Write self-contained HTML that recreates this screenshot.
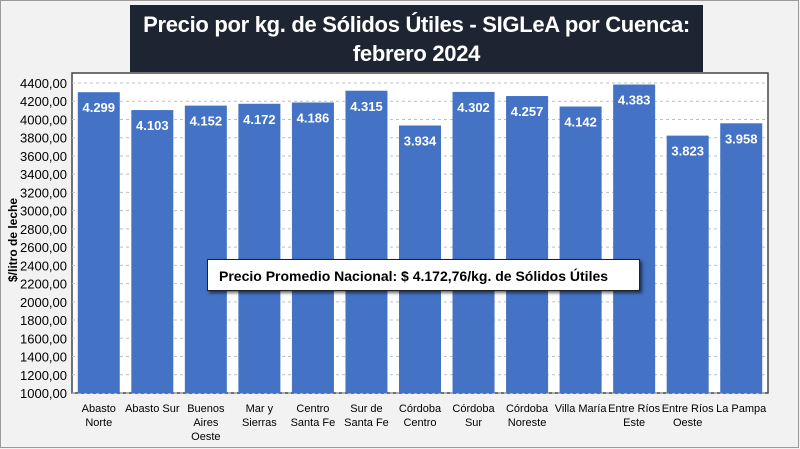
<!DOCTYPE html>
<html><head><meta charset="utf-8"><style>
html,body{margin:0;padding:0;width:800px;height:449px;overflow:hidden;background:#f2f2f2;font-family:"Liberation Sans",sans-serif}
#frame{position:absolute;left:0;top:0;width:797px;height:446px;border:1px solid #9a9a9a;background:#f2f2f2}
#title{position:absolute;left:130px;top:5px;width:573px;height:67px;overflow:hidden;white-space:nowrap;background:#1e2532;color:#fff;font-weight:bold;font-size:22px;letter-spacing:-0.3px;text-align:center;line-height:29px;padding-top:5px;box-sizing:border-box}
#annot{position:absolute;left:207px;top:259px;width:433px;height:32px;background:#fff;border:1px solid #222;box-shadow:2px 2px 3px rgba(0,0,0,.6);font-weight:bold;font-size:14px;line-height:32px;padding-left:11px;box-sizing:border-box;white-space:nowrap}
</style></head><body>
<div id="frame"></div>
<svg id="chart" width="800" height="449" style="position:absolute;left:0;top:0"></svg>
<div id="title">Precio por kg. de Sólidos Útiles - SIGLeA por Cuenca:<br>febrero 2024</div>
<div id="annot">Precio Promedio Nacional: $ 4.172,76/kg. de Sólidos Útiles</div>
<script>
const categories=[["Abasto","Norte"],["Abasto Sur"],["Buenos","Aires","Oeste"],["Mar y","Sierras"],["Centro","Santa Fe"],["Sur de","Santa Fe"],["Córdoba","Centro"],["Córdoba","Sur"],["Córdoba","Noreste"],["Villa María"],["Entre Ríos","Este"],["Entre Ríos","Oeste"],["La Pampa"]];
const values=[4299,4103,4152,4172,4186,4315,3934,4302,4257,4142,4383,3823,3958];
const valueLabels=["4.299","4.103","4.152","4.172","4.186","4.315","3.934","4.302","4.257","4.142","4.383","3.823","3.958"];
const yTicks=[1000,1200,1400,1600,1800,2000,2200,2400,2600,2800,3000,3200,3400,3600,3800,4000,4200,4400];

const svg=document.getElementById('chart');const NS="http://www.w3.org/2000/svg";
const L=72,R=768,T=73,B=393,yMin=1000,yMax=4400,yTop=83;
const y=v=>B-(v-yMin)/(yMax-yMin)*(B-yTop);
const step=(R-L)/categories.length;
const x=i=>L+step*(i+0.5);
function mk(t,a){const e=document.createElementNS(NS,t);for(const k in a)e.setAttribute(k,a[k]);svg.appendChild(e);return e;}
const pa=mk('rect',{x:L,y:T,width:R-L,height:B-T,fill:'#fff',stroke:'#444','stroke-width':1.5});


yTicks.forEach(t=>{
 const g=mk('line',{x1:L,x2:R,y1:y(t),y2:y(t),stroke:'#bfbfbf','stroke-dasharray':'3,3'});
 
 
 const tx=mk('text',{x:67,y:y(t)+5,'text-anchor':'end','font-size':13,fill:'#000'});
 tx.textContent=t.toFixed(2).replace('.',',');
 
 
});
const bw=42;
values.forEach((v,i)=>{
 const r=mk('rect',{x:x(i)-bw/2,y:y(v),width:bw,height:B-y(v),fill:'#4472c4'});
 
 
 const lb=mk('text',{x:x(i),y:y(v)+20,'text-anchor':'middle','font-size':13,'font-weight':'bold',fill:'#fff'});
 lb.textContent=valueLabels[i];
 
 
 categories[i].forEach((s,j)=>{
  const c=mk('text',{x:x(i),y:412+j*14,'text-anchor':'middle','font-size':11,fill:'#000'});
  c.textContent=s;
  
  
 });
});
const yt=mk('text',{x:0,y:0,'text-anchor':'middle','font-size':12,'font-weight':'bold',fill:'#000',transform:'translate(17,240) rotate(-90)'});
yt.textContent='$/litro de leche';


</script>
</body></html>
